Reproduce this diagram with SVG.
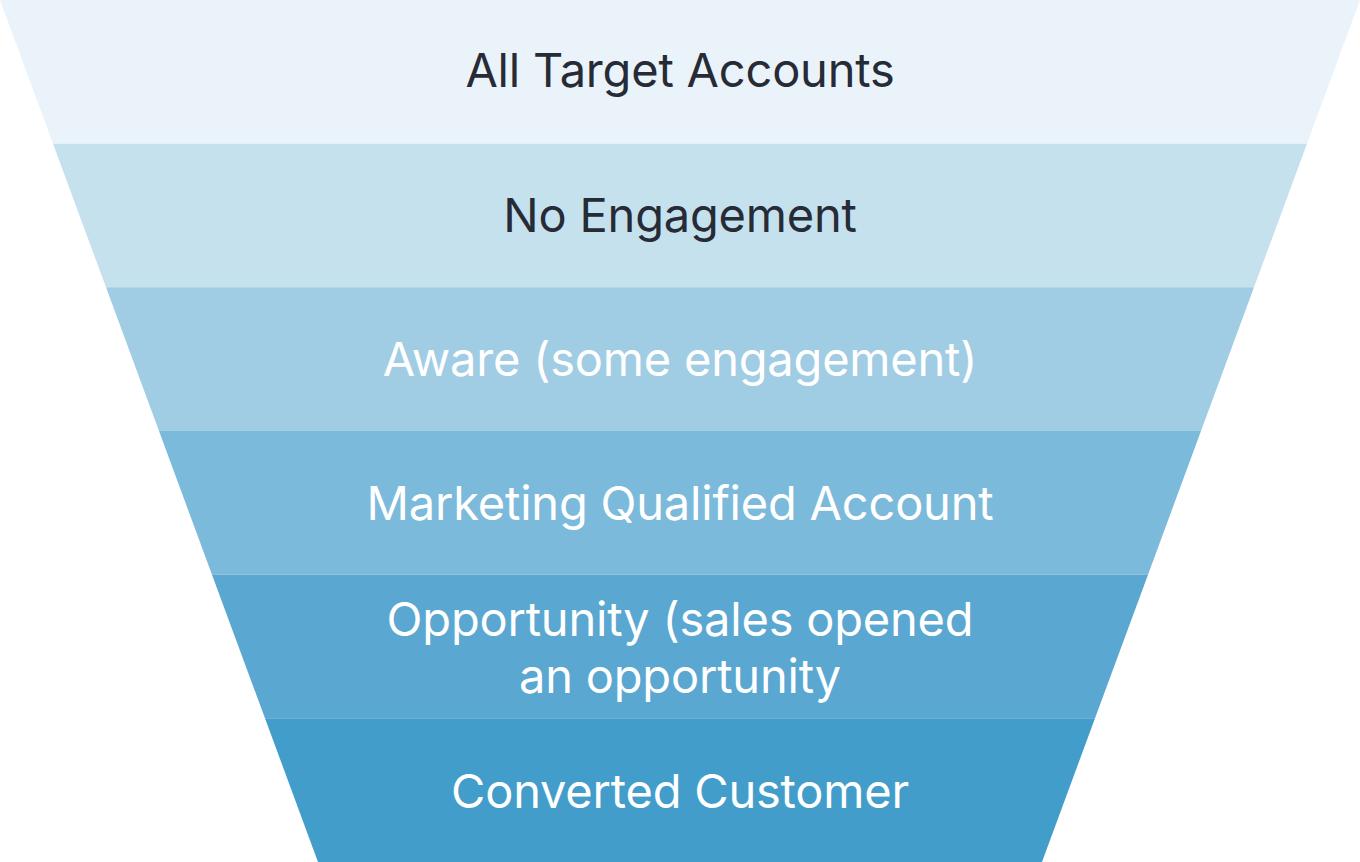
<svg xmlns="http://www.w3.org/2000/svg" width="1360" height="862" viewBox="0 0 1360 862">
<style>
.t{font-family:Inter,"Noto Sans","Liberation Sans",sans-serif;font-size:47px;letter-spacing:-0.2px;text-anchor:middle}
.d{fill:#262b36}
.w{fill:#ffffff}
</style>
<rect width="1360" height="862" fill="#ffffff"/>
<g id="band1"><polygon points="0,0 1360,0 1307,143.7 53,143.7" fill="#eaf3fa"/><text class="t d" x="680" y="87">All Target Accounts</text></g>
<g id="band2"><polygon points="53,143.7 1307,143.7 1254,287.3 106,287.3" fill="#c5e1ee"/><text class="t d" x="680" y="232">No Engagement</text></g>
<g id="band3"><polygon points="106,287.3 1254,287.3 1201,431 159,431" fill="#a1cde4"/><text class="t w" x="680" y="376">Aware (some engagement)</text></g>
<g id="band4"><polygon points="159,431 1201,431 1148,574.7 212,574.7" fill="#7cbadb"/><text class="t w" x="680" y="520">Marketing Qualified Account</text></g>
<g id="band5"><polygon points="212,574.7 1148,574.7 1095,718.3 265,718.3" fill="#5aa7d1"/><text class="t w" x="680" y="636">Opportunity (sales opened</text><text class="t w" x="680" y="693">an opportunity</text></g>
<g id="band6"><polygon points="265,718.3 1095,718.3 1042,862 318,862" fill="#439dcb"/><text class="t w" x="680" y="808">Converted Customer</text></g>
<g id="connectors"></g>
</svg>
